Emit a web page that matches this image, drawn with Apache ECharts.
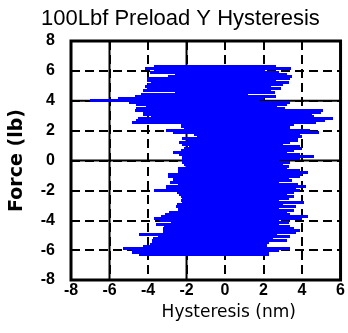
<!DOCTYPE html>
<html>
<head>
<meta charset="utf-8">
<script src="https://cdn.jsdelivr.net/npm/echarts@6/dist/echarts.min.js"></script>
<style>html,body{margin:0;padding:0;background:#fff;}#chart{width:348px;height:333px;}</style>
</head>
<body>
<div id="chart"></div>
<script>
// Force levels (lb), top to bottom
const forceLevels = [6.30,6.17,6.03,5.90,5.77,5.63,5.50,5.37,5.23,5.10,4.97,4.83,4.70,4.57,4.43,4.30,4.17,4.03,3.90,3.77,3.63,3.50,3.37,3.23,3.10,2.97,2.83,2.70,2.57,2.43,2.30,2.17,2.03,1.90,1.77,1.63,1.50,1.37,1.23,1.10,0.97,0.83,0.70,0.57,0.43,0.30,0.17,0.03,-0.10,-0.23,-0.37,-0.50,-0.63,-0.77,-0.90,-1.03,-1.17,-1.30,-1.43,-1.57,-1.70,-1.83,-1.97,-2.10,-2.23,-2.37,-2.50,-2.63,-2.77,-2.90,-3.03,-3.17,-3.30,-3.43,-3.57,-3.70,-3.83,-3.97,-4.10,-4.23,-4.37,-4.50,-4.63,-4.77,-4.90,-5.03,-5.17,-5.30,-5.43,-5.57,-5.70,-5.83,-5.97,-6.10,-6.23];
// Hysteresis left edge (nm)
const leftEdge = [-3.69,-4.15,-3.69,-3.91,-2.58,-2.97,-4.03,-4.03,-3.83,-4.00,-4.15,-4.03,-4.26,-2.58,-4.34,-4.68,-5.54,-7.03,-4.97,-4.60,-4.09,-4.60,-4.68,-4.26,-4.26,-3.83,-4.51,-4.60,-4.85,-2.29,-2.29,-2.12,-3.06,-2.72,-1.61,-1.44,-2.21,-1.90,-2.41,-2.21,-1.86,-2.12,-2.29,-2.68,-2.38,-2.21,-2.21,-2.21,-2.21,-2.12,-2.03,-2.46,-2.46,-2.46,-2.97,-2.97,-2.72,-2.72,-2.85,-2.46,-3.06,-3.06,-3.69,-2.50,-2.38,-2.30,-2.21,-2.29,-2.21,-2.50,-2.55,-2.46,-2.46,-2.90,-3.10,-3.30,-3.69,-3.40,-2.80,-3.57,-3.15,-3.20,-3.20,-3.20,-4.46,-3.49,-3.74,-3.77,-3.77,-3.91,-4.26,-5.32,-4.85,-4.85,-4.46];
// Hysteresis right edge (nm)
const rightEdge = [2.67,3.44,2.10,2.80,3.20,3.50,3.40,2.67,3.30,3.00,2.40,2.90,2.40,2.60,1.20,2.67,2.00,1.75,3.40,3.20,2.70,3.10,5.10,5.00,4.50,4.60,5.60,5.20,4.70,3.60,3.40,3.40,4.40,4.90,3.90,4.00,3.80,3.80,3.40,3.00,3.90,4.00,3.60,3.20,3.90,4.60,3.90,2.80,3.40,3.00,3.30,3.20,3.90,4.30,4.00,3.90,3.30,3.50,2.80,3.80,4.20,3.70,3.90,3.60,3.20,3.60,3.30,2.80,4.10,3.00,3.70,2.80,3.60,3.20,3.40,4.30,4.00,2.80,3.30,2.80,3.40,3.60,3.90,3.70,2.70,3.40,2.50,3.20,2.30,2.20,2.20,3.40,2.80,2.30,2.30];
// Axis ticks
const xTicks = [-8,-6,-4,-2,0,2,4,6];
const yTicks = [-8,-6,-4,-2,0,2,4,6,8];
const solidGridX = [-6,-2];
const solidGridY = [4,0];

const rowStep = Math.abs(forceLevels[0] - forceLevels[1]);
const data = forceLevels.map((f, i) => [leftEdge[i], rightEdge[i], f]);
const gridData = solidGridX.map(v => [v, 0, 0]).concat(solidGridY.map(v => [0, v, 1]));

const chart = echarts.init(document.getElementById('chart'), null, {renderer: 'canvas'});
const tickFont = {color: '#000', fontFamily: '"Liberation Sans Narrow", "Liberation Sans", Arial, sans-serif', fontSize: 16, fontWeight: 'bold'};

chart.setOption({
  animation: false,
  backgroundColor: '#fff',
  title: {
    text: '100Lbf Preload Y Hysteresis',
    left: 36, top: 3,
    textStyle: {fontFamily: '"Liberation Sans", Arial, sans-serif', fontSize: 22, fontWeight: 'normal', color: '#000'}
  },
  grid: {left: 71, top: 41, width: 274, height: 239, show: true, borderColor: '#000', borderWidth: 3, backgroundColor: 'transparent'},
  xAxis: {
    type: 'value', min: xTicks[0], max: xTicks[xTicks.length - 1], interval: 2,
    axisLine: {show: false}, axisTick: {show: false},
    splitLine: {show: true, lineStyle: {color: '#000', width: 2, type: [9, 5]}},
    axisLabel: Object.assign({margin: 3}, tickFont),
    name: 'Hysteresis (nm)', nameLocation: 'middle', nameGap: 20,
    nameTextStyle: {fontFamily: '"DejaVu Sans", sans-serif', fontSize: 17, color: '#000', padding: [0, 0, 0, 46]}
  },
  yAxis: {
    type: 'value', min: yTicks[0], max: yTicks[yTicks.length - 1], interval: 2,
    axisLine: {show: false}, axisTick: {show: false},
    splitLine: {show: true, lineStyle: {color: '#000', width: 2, type: [9, 5]}},
    axisLabel: Object.assign({margin: 16}, tickFont),
    name: 'Force (lb)', nameLocation: 'middle', nameGap: 44, nameRotate: 90,
    nameTextStyle: {fontFamily: '"DejaVu Sans", sans-serif', fontSize: 19, fontWeight: 'bold', color: '#000'}
  },
  series: [
    {
      type: 'custom', z: 1, silent: true,
      encode: {x: 0, y: 1},
      data: gridData,
      renderItem: function (params, api) {
        const cs = params.coordSys;
        const p = api.coord([api.value(0), api.value(1)]);
        const shape = api.value(2) === 0
          ? {x1: p[0], y1: cs.y, x2: p[0], y2: cs.y + cs.height}
          : {x1: cs.x, y1: p[1], x2: cs.x + cs.width, y2: p[1]};
        return {type: 'line', shape: shape, style: {stroke: '#000', lineWidth: 2}};
      }
    },
    {
      type: 'custom', z: 10, silent: true,
      encode: {x: [0, 1], y: 2},
      data: data,
      renderItem: function (params, api) {
        const l = api.value(0), r = api.value(1), f = api.value(2);
        const p1 = api.coord([l, f]);
        const p2 = api.coord([r, f]);
        const h = api.size([0, rowStep])[1];
        const y0 = Math.round(p1[1] - h / 2);
        return {
          type: 'rect',
          shape: {x: Math.round(p1[0]), y: y0, width: Math.round(p2[0]) - Math.round(p1[0]), height: Math.ceil(h) + 1},
          style: {fill: '#0000ff'}
        };
      }
    }
  ]
});
</script>
</body>
</html>
